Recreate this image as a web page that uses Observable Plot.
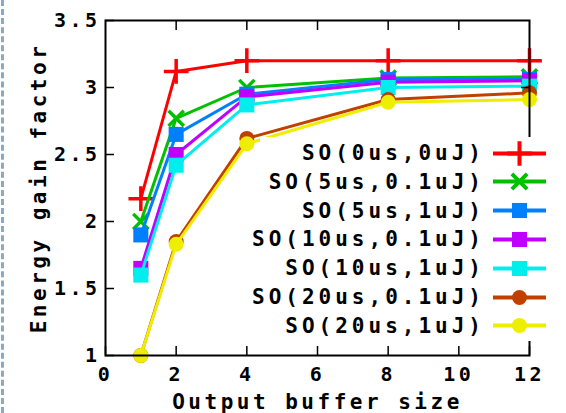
<!DOCTYPE html>
<html>
<head>
<meta charset="utf-8">
<script src="https://cdn.jsdelivr.net/npm/d3@7"></script>
<script src="https://cdn.jsdelivr.net/npm/@observablehq/plot@0.6"></script>
<style>
  html, body { margin: 0; padding: 0; background: #fff; }
  #wrap { position: relative; width: 566px; height: 413px; overflow: hidden; }
  #wrap::before { content: ""; position: absolute; left: 1px; top: 0; bottom: 0; border-left: 3px dashed #8aaac4; }
  #legend { position: absolute; left: 260px; top: 137px; width: 292px; height: 204px; background: #fff; }
  .row { position: absolute; right: 0; height: 29px; display: flex; align-items: center; }
  .row span { font-family: "DejaVu Sans Mono", monospace; font-weight: bold; font-size: 21px; letter-spacing: 4px; color: #000; }
</style>
</head>
<body>
<div id="wrap"></div>
<script>
const xs = [1, 2, 4, 8, 12];
const names = ["SO(0us,0uJ)", "SO(5us,0.1uJ)", "SO(5us,1uJ)", "SO(10us,0.1uJ)", "SO(10us,1uJ)", "SO(20us,0.1uJ)", "SO(20us,1uJ)"];
const so0_0 = [2.17, 3.12, 3.2, 3.2, 3.2];
const so5_01 = [2.0, 2.77, 3.0, 3.07, 3.08];
const so5_1 = [1.9, 2.65, 2.95, 3.06, 3.06];
const so10_01 = [1.65, 2.5, 2.93, 3.04, 3.05];
const so10_1 = [1.6, 2.42, 2.87, 3.0, 3.01];
const so20_01 = [1.0, 1.85, 2.62, 2.91, 2.96];
const so20_1 = [1.0, 1.83, 2.58, 2.89, 2.91];
const xTicks = [0, 2, 4, 6, 8, 10, 12];
const yTicks = [1, 1.5, 2, 2.5, 3, 3.5];

const seriesValues = [so0_0, so5_01, so5_1, so10_01, so10_1, so20_01, so20_1];
const colors = ["#ff0000", "#00c000", "#0080ff", "#c000ff", "#00eeee", "#c04000", "#eeee00"];
const symbols = ["plus", "times", "square", "square", "square", "circle", "circle"];
const radii = [8, 7, 8.5, 8.5, 8.5, 7.5, 7.5];
const strokeSyms = new Set(["plus", "times"]);

const data = [];
names.forEach((n, i) => seriesValues[i].forEach((v, j) => data.push({series: n, idx: i, x: xs[j], y: v})));

const font = "DejaVu Sans Mono, monospace";
const marks = [];
names.forEach((n, i) => {
  const d = data.filter(p => p.idx === i);
  marks.push(Plot.line(d, {x: "x", y: "y", stroke: colors[i], strokeWidth: 3}));
  const sym = symbols[i];
  if (strokeSyms.has(sym)) {
    marks.push(Plot.dot(d, {x: "x", y: "y", symbol: sym, r: radii[i], stroke: colors[i], strokeWidth: 3.5, fill: "none"}));
  } else {
    marks.push(Plot.dot(d, {x: "x", y: "y", symbol: sym, r: radii[i], fill: colors[i], stroke: "none"}));
  }
});

const fmt = d => String(d);
const chart = Plot.plot({
  width: 566,
  height: 413,
  marginLeft: 105,
  marginRight: 37,
  marginTop: 20,
  marginBottom: 58,
  style: {fontFamily: font, fontWeight: "bold", fontSize: "20px", color: "#000", background: "transparent", overflow: "visible"},
  x: {domain: [0, 12]},
  y: {domain: [1, 3.5]},
  marks: [
    ...marks,
    Plot.frame({stroke: "#000", strokeWidth: 2}),
    Plot.axisX(xTicks, {anchor: "bottom", tickSize: -9, tickPadding: 20, tickFormat: fmt, fontSize: 20, fontWeight: "bold", fontFamily: font, label: null, strokeWidth: 1.5}),
    Plot.axisX(xTicks.slice(1, -1), {anchor: "top", tickSize: -9, text: null, label: null, strokeWidth: 1.5}),
    Plot.axisY(yTicks, {anchor: "left", tickSize: -9, tickPadding: 14, tickFormat: fmt, fontSize: 20, fontWeight: "bold", fontFamily: font, label: null, strokeWidth: 1.5}),
    Plot.axisY(yTicks.slice(1, -1), {anchor: "right", tickSize: -9, text: null, label: null, strokeWidth: 1.5}),
    Plot.text(["Output buffer size"], {frameAnchor: "bottom", dy: 53, fontSize: 21, fontWeight: "bold", fontFamily: font, text: d => d}),
    Plot.text(["Energy gain factor"], {frameAnchor: "left", dx: -66, rotate: -90, textAnchor: "middle", fontSize: 21, fontWeight: "bold", fontFamily: font, text: d => d})
  ]
});
chart.querySelectorAll("text").forEach(t => t.style.letterSpacing = "3.5px");
document.getElementById("wrap").appendChild(chart);

// legend
const legend = document.createElement("div");
legend.id = "legend";
names.forEach((n, i) => {
  const row = document.createElement("div");
  row.className = "row";
  row.style.top = (i * 28.8 + 1.5) + "px";
  const span = document.createElement("span");
  span.textContent = n;
  row.appendChild(span);
  const svg = d3.create("svg").attr("width", 57).attr("height", 29).style("margin-left", "6px").style("margin-right", "4px");
  svg.append("line").attr("x1", 2).attr("x2", 55).attr("y1", 14.5).attr("y2", 14.5).attr("stroke", colors[i]).attr("stroke-width", 4);
  const sym = {plus: d3.symbolPlus, times: d3.symbolTimes, square: d3.symbolSquare, circle: d3.symbolCircle}[symbols[i]];
  const p = svg.append("path").attr("transform", "translate(28.5,14.5)")
    .attr("d", d3.symbol(sym, Math.PI * radii[i] * radii[i])());
  if (strokeSyms.has(symbols[i])) p.attr("fill", "none").attr("stroke", colors[i]).attr("stroke-width", 4);
  else p.attr("fill", colors[i]);
  row.appendChild(svg.node());
  legend.appendChild(row);
});
document.getElementById("wrap").appendChild(legend);
</script>
</body>
</html>
